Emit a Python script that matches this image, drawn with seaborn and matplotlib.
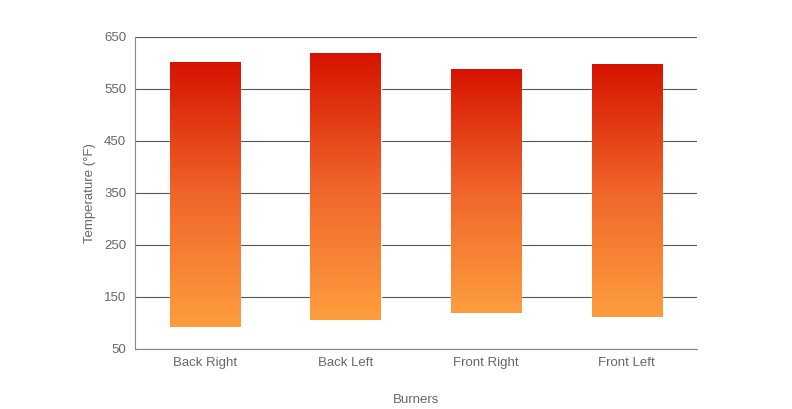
import matplotlib
matplotlib.use("Agg")
import matplotlib.pyplot as plt
import seaborn as sns
import numpy as np
import pandas as pd
from matplotlib.colors import LinearSegmentedColormap

burners = ["Back Right", "Back Left", "Front Right", "Front Left"]
low_temps = [92, 106, 119, 112]
high_temps = [602, 619, 588, 598]

sns.set_style("white")
plt.rcParams['font.family'] = ['Liberation Sans', 'DejaVu Sans']

df = pd.DataFrame({"Burner": burners, "low": low_temps, "high": high_temps})
df["span"] = df["high"] - df["low"]

fig = plt.figure(figsize=(7.92, 4.09), dpi=100)
ax = fig.add_axes([0.170, 0.147, 0.710, 0.763])

sns.barplot(data=df, x="Burner", y="span", bottom=df["low"].values, width=0.5,
            color="#e03a10", ax=ax, zorder=3)

ax.set_ylim(50, 650)
ax.set_yticks(range(50, 651, 100))
ax.yaxis.grid(True, color="#555555", linewidth=0.8, zorder=0)
ax.set_axisbelow(True)

cmap = LinearSegmentedColormap.from_list("g", ["#fd9e3e", "#f0652a", "#d61300"])
grad = np.linspace(0, 1, 256).reshape(-1, 1)
xlim = ax.get_xlim()
for p in ax.patches:
    x0, y0 = p.get_x(), p.get_y()
    w, h = p.get_width(), p.get_height()
    im = ax.imshow(grad, cmap=cmap, origin="lower", aspect="auto",
                   extent=[x0, x0 + w, y0, y0 + h], zorder=4)
    im.set_clip_path(p)
ax.set_xlim(xlim)
ax.set_ylim(50, 650)

for s in ["top", "right"]:
    ax.spines[s].set_visible(False)
for s in ["left", "bottom"]:
    ax.spines[s].set_color("#888888")
ax.tick_params(colors="#666666", labelsize=9.5, length=0, pad=6)
ax.set_xlabel("Burners", color="#666666", fontsize=9.5, labelpad=18)
ax.set_ylabel("Temperature (°F)", color="#666666", fontsize=9.5, labelpad=6)

fig.savefig("out.png", dpi=100)
